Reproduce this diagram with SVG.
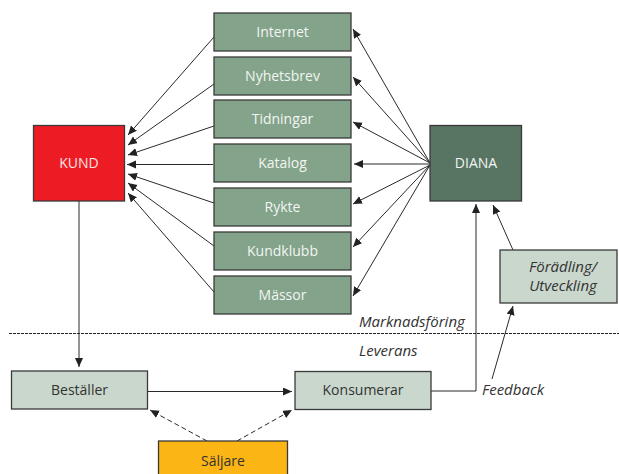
<svg xmlns="http://www.w3.org/2000/svg" width="619" height="474" viewBox="0 0 619 474">
<style>
.box{stroke:#3a3a3a;stroke-width:1.3}
.g{fill:#83A38A}
.lt{fill:#C9D7CC}
.t{font-family:"Open Sans","Noto Sans","Liberation Sans",sans-serif;font-size:14px;font-weight:400;text-anchor:middle}
.w{fill:#F2F5F2}
.d{fill:#333}
.i{font-style:italic;fill:#333;font-size:15px}
.ln{stroke:#2a2a2a;stroke-width:1;fill:none}
.dash{stroke-dasharray:5,3}
</style>
<defs>
<marker id="ah" markerUnits="userSpaceOnUse" markerWidth="10" markerHeight="10" refX="9" refY="4" orient="auto">
<path d="M0,0 L9,4 L0,8 z" fill="#222"/>
</marker>
</defs>
<rect width="619" height="474" fill="#fff"/>
<g id="divider">
<line x1="9" y1="333.5" x2="619" y2="333.5" stroke="#222" stroke-width="1.2" stroke-dasharray="3,1"/>
<text x="359" y="327" class="t i" style="text-anchor:start">Marknadsföring</text>
<text x="359" y="356" class="t i" style="text-anchor:start">Leverans</text>
</g>
<g id="connectors">
<line class="ln" x1="214" y1="37" x2="128" y2="135" marker-end="url(#ah)"/>
<line class="ln" x1="214" y1="84" x2="128" y2="145" marker-end="url(#ah)"/>
<line class="ln" x1="214" y1="126" x2="128" y2="155" marker-end="url(#ah)"/>
<line class="ln" x1="213" y1="164.5" x2="127" y2="164.5" marker-end="url(#ah)"/>
<line class="ln" x1="214" y1="203" x2="128" y2="174" marker-end="url(#ah)"/>
<line class="ln" x1="214" y1="246" x2="128" y2="183" marker-end="url(#ah)"/>
<line class="ln" x1="214" y1="292" x2="128" y2="193" marker-end="url(#ah)"/>
<line class="ln" x1="430" y1="163" x2="353" y2="29" marker-end="url(#ah)"/>
<line class="ln" x1="430" y1="163" x2="353" y2="77" marker-end="url(#ah)"/>
<line class="ln" x1="430" y1="163" x2="353" y2="122" marker-end="url(#ah)"/>
<line class="ln" x1="430" y1="164" x2="354" y2="164" marker-end="url(#ah)"/>
<line class="ln" x1="430" y1="165" x2="353" y2="204" marker-end="url(#ah)"/>
<line class="ln" x1="430" y1="165" x2="353" y2="247" marker-end="url(#ah)"/>
<line class="ln" x1="430" y1="165" x2="353" y2="296" marker-end="url(#ah)"/>
<line class="ln" x1="79" y1="201" x2="79" y2="367" marker-end="url(#ah)"/>
<line class="ln" x1="148" y1="391.5" x2="292" y2="391.5" marker-end="url(#ah)"/>
<line class="ln dash" x1="207" y1="441" x2="150" y2="410" marker-end="url(#ah)"/>
<line class="ln dash" x1="237" y1="441" x2="292" y2="410" marker-end="url(#ah)"/>
<polyline class="ln" points="431,391 476,391 476,204" marker-end="url(#ah)"/>
<line class="ln" x1="513" y1="250" x2="493" y2="205" marker-end="url(#ah)"/>
<line class="ln" x1="492" y1="379" x2="513" y2="306" marker-end="url(#ah)"/>
<text x="482" y="395" class="t i" style="text-anchor:start">Feedback</text>
</g>
<g id="internet"><rect class="box g" x="214" y="13" width="137" height="38"/><text class="t w" x="282.5" y="37">Internet</text></g>
<g id="nyhetsbrev"><rect class="box g" x="214" y="57" width="137" height="38"/><text class="t w" x="282.5" y="81">Nyhetsbrev</text></g>
<g id="tidningar"><rect class="box g" x="214" y="100" width="137" height="38"/><text class="t w" x="282.5" y="124">Tidningar</text></g>
<g id="katalog"><rect class="box g" x="214" y="144" width="137" height="38"/><text class="t w" x="282.5" y="168">Katalog</text></g>
<g id="rykte"><rect class="box g" x="214" y="188" width="137" height="38"/><text class="t w" x="282.5" y="212">Rykte</text></g>
<g id="kundklubb"><rect class="box g" x="214" y="232" width="137" height="38"/><text class="t w" x="282.5" y="256">Kundklubb</text></g>
<g id="massor"><rect class="box g" x="214" y="276" width="137" height="38"/><text class="t w" x="282.5" y="300">Mässor</text></g>
<g id="kund"><rect class="box" fill="#ED1C24" x="33.5" y="125.5" width="91" height="75.5"/><text class="t" fill="#FCE3E3" x="79" y="168">KUND</text></g>
<g id="diana"><rect class="box" fill="#587462" x="430" y="125.5" width="91.5" height="75.5"/><text class="t w" x="476" y="168">DIANA</text></g>
<g id="foradling"><rect class="box lt" x="500" y="250" width="117" height="53"/><text class="t i" x="563" y="272">Förädling/</text><text class="t i" x="563" y="291">Utveckling</text></g>
<g id="bestaller"><rect class="box lt" x="11.5" y="371" width="136" height="38"/><text class="t d" x="79.5" y="395">Beställer</text></g>
<g id="konsumerar"><rect class="box lt" x="295" y="371.5" width="136" height="38"/><text class="t d" x="363" y="395">Konsumerar</text></g>
<g id="saljare"><rect class="box" fill="#FBB515" x="158.5" y="441" width="129" height="40"/><text class="t d" x="223" y="466">Säljare</text></g>
</svg>
